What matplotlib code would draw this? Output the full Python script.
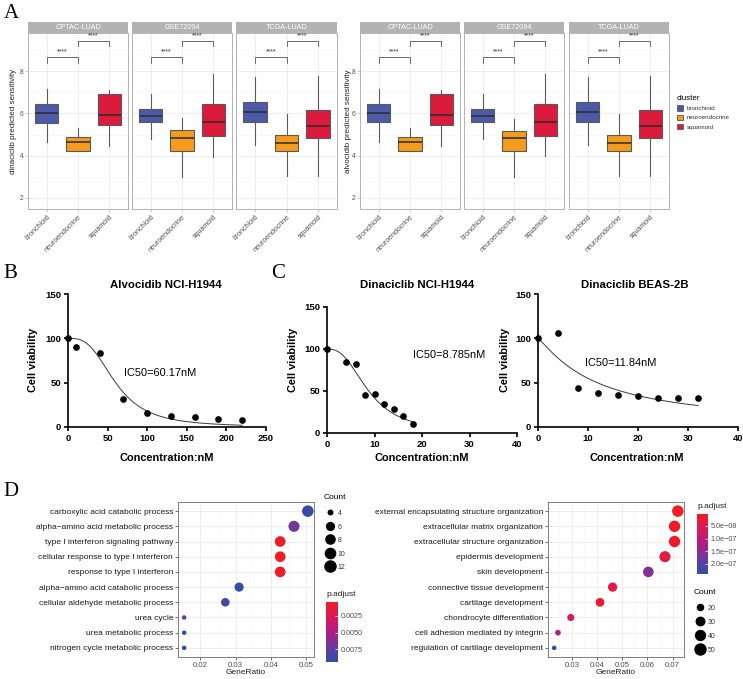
import numpy as np
import matplotlib
matplotlib.use("Agg")
import matplotlib.pyplot as plt
from matplotlib.patches import Patch
from matplotlib.lines import Line2D
from matplotlib.colors import LinearSegmentedColormap, Normalize
from matplotlib.cm import ScalarMappable

plt.rcParams['font.family'] = ['Liberation Sans', 'DejaVu Sans']

# ---------------- data ----------------
clusters = ['bronchioid', 'neuroendocrine', 'squamoid']
cluster_colors = ['#4C5BA8', '#F39C1E', '#DC1A3B']
cohorts = ['CPTAC-LUAD', 'GSE72094', 'TCGA-LUAD']

# (whisker low, q1, median, q3, whisker high) per cluster
dina_cptac = [(4.66, 5.56, 6.00, 6.43, 7.13), (4.20, 4.20, 4.63, 4.88, 5.30), (4.47, 5.45, 5.94, 6.91, 7.10)]
dina_gse = [(4.80, 5.57, 5.87, 6.20, 6.90), (3.00, 4.24, 4.85, 5.20, 5.76), (3.95, 4.94, 5.60, 6.43, 7.86)]
dina_tcga = [(4.50, 5.57, 6.05, 6.52, 7.73), (3.05, 4.20, 4.61, 4.98, 5.97), (3.05, 4.82, 5.39, 6.17, 7.76)]
alvo_cptac = [(4.66, 5.57, 6.00, 6.43, 7.13), (4.20, 4.20, 4.63, 4.88, 5.32), (4.47, 5.45, 5.94, 6.91, 7.10)]
alvo_gse = [(4.80, 5.57, 5.87, 6.20, 6.90), (3.00, 4.24, 4.85, 5.17, 5.73), (3.98, 4.93, 5.60, 6.43, 7.86)]
alvo_tcga = [(4.50, 5.57, 6.05, 6.52, 7.73), (3.05, 4.20, 4.61, 4.98, 5.97), (3.05, 4.83, 5.40, 6.16, 7.76)]

# significance brackets: (from, to, height)
sig_pairs = [(1, 2, 8.65), (2, 3, 9.42)]

# dose response
alvo_h1944_conc = [0, 10, 40, 70, 100, 130, 160, 190, 220]
alvo_h1944_via = [100, 90.5, 83, 32, 16.3, 12.5, 11.7, 9.5, 8.3]
alvo_h1944_ic50, alvo_h1944_hill = 60.17, 3.0

dina_h1944_conc = [0, 4, 6, 8, 10, 12, 14, 16, 18]
dina_h1944_via = [100, 85, 82, 45, 46, 34, 29, 20, 11]
dina_h1944_ic50, dina_h1944_hill = 8.785, 2.6

dina_beas_conc = [0, 4, 8, 12, 16, 20, 24, 28, 32]
dina_beas_via = [100, 106, 44, 38, 36.4, 34.5, 32.6, 32.2, 32.2]
dina_beas_ic50, dina_beas_hill = 11.84, 1.15

# GO enrichment
go_left_terms = ['carboxylic acid catabolic process', 'alpha\u2212amino acid metabolic process',
                 'type I interferon signaling pathway', 'cellular response to type I interferon',
                 'response to type I interferon', 'alpha\u2212amino acid catabolic process',
                 'cellular aldehyde metabolic process', 'urea cycle', 'urea metabolic process',
                 'nitrogen cycle metabolic process']
go_left_ratio = [0.0504, 0.0465, 0.0426, 0.0426, 0.0426, 0.0310, 0.0271, 0.0155, 0.0155, 0.0155]
go_left_count = [13, 12, 11, 11, 11, 8, 7, 4, 4, 4]
go_left_padj = [0.0090, 0.0068, 0.0004, 0.0004, 0.0005, 0.0092, 0.0086, 0.0068, 0.0093, 0.0094]

go_right_terms = ['external encapsulating structure organization', 'extracellular matrix organization',
                  'extracellular structure organization', 'epidermis development', 'skin development',
                  'connective tissue development', 'cartilage development', 'chondrocyte differentiation',
                  'cell adhesion mediated by integrin', 'regulation of cartilage development']
go_right_ratio = [0.0721, 0.0708, 0.0708, 0.0670, 0.0604, 0.0462, 0.0412, 0.0296, 0.0245, 0.0230]
go_right_count = [55, 54, 54, 51, 46, 35, 32, 23, 19, 18]
go_right_padj = [3e-9, 6e-9, 8e-9, 3.5e-8, 1.6e-7, 3e-8, 1.5e-8, 6.5e-8, 1.25e-7, 2.4e-7]

ic50_labels = {'Alvocidib NCI-H1944': '60.17', 'Dinaciclib NCI-H1944': '8.785',
               'Dinaciclib BEAS-2B': '11.84'}

# ---------------- helpers ----------------
W, H = 743, 679
fig = plt.figure(figsize=(W / 100, H / 100), dpi=100)


def px_axes(x0, y0, x1, y1):
    return fig.add_axes([x0 / W, 1 - y1 / H, (x1 - x0) / W, (y1 - y0) / H])


def fig_text(x, y, s, **kw):
    return fig.text(x / W, 1 - y / H, s, **kw)


def logistic(x, ic50, hill, top=100.0, bottom=0.0):
    return bottom + (top - bottom) / (1 + (x / ic50) ** hill)


def dot_diam(c, cmin, cmax, dmin=4.5, dmax=11.5):
    # ggplot-like area scale, returned in points
    c = np.asarray(c, dtype=float)
    return (dmin + (dmax - dmin) * np.sqrt((c - cmin) / (cmax - cmin))) * 0.72


grey_txt = '#4D4D4D'

# ---------------- panel A ----------------
def facet(x0, x1, stats5, name, show_y):
    ax = px_axes(x0, 33, x1, 209)
    stats = [dict(whislo=s[0], q1=s[1], med=s[2], q3=s[3], whishi=s[4], fliers=[]) for s in stats5]
    bp = ax.bxp(stats, positions=[1, 2, 3], widths=0.75, patch_artist=True, showfliers=False,
                showcaps=False, boxprops=dict(edgecolor='#5A5A5A', linewidth=0.8),
                medianprops=dict(color='#2B2B2B', linewidth=1.1),
                whiskerprops=dict(color='#5A5A5A', linewidth=0.8))
    for patch, c in zip(bp['boxes'], cluster_colors):
        patch.set_facecolor(c)
    ax.set_xlim(0.4, 3.6)
    ax.set_ylim(1.48, 9.8)
    ax.set_yticks([2, 4, 6, 8])
    ax.set_yticks([3, 5, 7, 9], minor=True)
    ax.set_xticks([1, 2, 3])
    ax.set_xticklabels(clusters, rotation=45, ha='right', rotation_mode='anchor',
                       fontsize=5, color=grey_txt)
    ax.grid(which='major', color='#EBEBEB', linewidth=0.6)
    ax.grid(which='minor', axis='y', color='#F4F4F4', linewidth=0.4)
    ax.set_axisbelow(True)
    ax.tick_params(which='both', length=2, color='#B3B3B3', width=0.5, labelsize=4.8,
                   labelcolor=grey_txt, pad=1.5)
    ax.tick_params(axis='x', labelsize=5)
    ax.tick_params(which='minor', length=0)
    if not show_y:
        ax.tick_params(axis='y', length=0, labelleft=False)
    for sp in ax.spines.values():
        sp.set_color('#B3B3B3')
        sp.set_linewidth(0.7)
    for a, b, h in sig_pairs:
        ax.plot([a, a, b, b], [h - 0.25, h, h, h - 0.25], color='#555555', lw=0.6)
        ax.text((a + b) / 2, h + 0.07, '****', ha='center', va='bottom', fontsize=5, color='#333333')
    sax = px_axes(x0, 22, x1, 33)
    sax.set_facecolor('#B3B3B3')
    sax.set_xticks([])
    sax.set_yticks([])
    for sp in sax.spines.values():
        sp.set_visible(False)
    sax.text(0.5, 0.5, name, ha='center', va='center', color='white', fontsize=5.2,
             transform=sax.transAxes)
    return ax


left_x = [(28, 128), (132, 232), (236, 337)]
right_x = [(360, 460), (464, 564), (569, 669)]
for (x0, x1), st, nm, i in zip(left_x, [dina_cptac, dina_gse, dina_tcga], cohorts, range(3)):
    facet(x0, x1, st, nm, i == 0)
for (x0, x1), st, nm, i in zip(right_x, [alvo_cptac, alvo_gse, alvo_tcga], cohorts, range(3)):
    facet(x0, x1, st, nm, i == 0)

fig_text(14, 121, 'dinaciclib predicted sensitivity', rotation=90, ha='center', va='center',
         fontsize=5.8, color='#222222')
fig_text(348, 121, 'alvocidib predicted sensitivity', rotation=90, ha='center', va='center',
         fontsize=5.8, color='#222222')

handles = [Patch(facecolor=c, edgecolor='#5A5A5A', linewidth=0.6, label=l)
           for c, l in zip(cluster_colors, clusters)]
leg = fig.legend(handles=handles, title='cluster', loc='upper left',
                 bbox_to_anchor=(677 / W, 1 - 95 / H), frameon=False, fontsize=4.5,
                 title_fontsize=5.8, handlelength=1.0, handleheight=0.9, labelspacing=0.55,
                 handletextpad=0.6, borderpad=0, borderaxespad=0)
leg._legend_box.align = 'left'
for t in leg.get_texts():
    t.set_color('#333333')

# ---------------- panels B, C ----------------
def dose_panel(box, conc, via, ic50, hill, xmax, xstep, title, title_x, ylab_x, xlab_x, ic_xy):
    ax = px_axes(*box)
    xs = np.linspace(0, max(conc), 300)
    ax.plot(xs, logistic(xs, ic50, hill), color='#3A3A3A', lw=0.7)
    ax.plot(conc, via, 'o', color='black', markersize=3.8, clip_on=False)
    ax.set_xlim(0, xmax)
    ax.set_ylim(0, 150)
    ax.set_xticks(np.arange(0, xmax + 1, xstep))
    ax.set_yticks([0, 50, 100, 150])
    for sp in ['top', 'right']:
        ax.spines[sp].set_visible(False)
    for sp in ['left', 'bottom']:
        ax.spines[sp].set_linewidth(1.2)
    ax.tick_params(width=1.2, length=3, labelsize=6.8, pad=2)
    for lab in ax.get_xticklabels() + ax.get_yticklabels():
        lab.set_fontweight('bold')
    fig_text(title_x, 285, title, ha='center', va='center', fontsize=8.2, fontweight='bold')
    fig_text(ylab_x, 360, 'Cell viability', rotation=90, ha='center', va='center',
             fontsize=7.8, fontweight='bold')
    fig_text(xlab_x, 458, 'Concentration:nM', ha='center', va='center', fontsize=7.9,
             fontweight='bold')
    fig_text(ic_xy[0], ic_xy[1], 'IC50=%snM' % ic50_labels[title], ha='left', va='center',
             fontsize=7.9)
    return ax


dose_panel((68, 294, 266, 427), alvo_h1944_conc, alvo_h1944_via, alvo_h1944_ic50, alvo_h1944_hill,
           250, 50, 'Alvocidib NCI-H1944', 166, 33, 167, (124, 373))
dose_panel((327, 307, 517, 433), dina_h1944_conc, dina_h1944_via, dina_h1944_ic50, dina_h1944_hill,
           40, 10, 'Dinaciclib NCI-H1944', 417, 293, 422, (413, 355))
dose_panel((538, 294, 738, 427), dina_beas_conc, dina_beas_via, dina_beas_ic50, dina_beas_hill,
           40, 10, 'Dinaciclib BEAS-2B', 635, 505, 637, (585, 363))

# ---------------- panel D ----------------
padj_cmap = LinearSegmentedColormap.from_list(
    'padj', ['#EE1D26', '#D8195A', '#B21B84', '#6B3A9E', '#2C4FA7'])


def go_panel(box, terms, ratio, count, padj, xticks, cbar_box, cbar_ticks, cbar_labels,
             count_title_xy, count_vals, spacing):
    ax = px_axes(*box)
    n = len(terms)
    ypos = np.arange(n)[::-1]
    cmin, cmax = min(count), max(count)
    norm = Normalize(vmin=min(padj), vmax=max(padj))
    ax.scatter(ratio, ypos, s=dot_diam(count, cmin, cmax) ** 2, c=padj, cmap=padj_cmap,
               norm=norm, linewidths=0, zorder=3)
    rng = max(ratio) - min(ratio)
    ax.set_xlim(min(ratio) - 0.05 * rng, max(ratio) + 0.05 * rng)
    ax.set_ylim(-0.6, n - 0.4)
    ax.set_yticks(ypos)
    ax.set_yticklabels(terms, fontsize=6.0, color='#1A1A1A')
    ax.set_xticks(xticks)
    ax.set_xticklabels(['%.2f' % t for t in xticks], fontsize=5.6, color=grey_txt)
    ax.set_xticks([t + 0.005 for t in xticks[:-1]] + [xticks[0] - 0.005], minor=True)
    ax.grid(which='major', color='#EBEBEB', linewidth=0.6)
    ax.grid(which='minor', axis='x', color='#F4F4F4', linewidth=0.4)
    ax.set_axisbelow(True)
    ax.tick_params(which='major', length=2, width=0.5, color='#333333', pad=1.5)
    ax.tick_params(which='minor', length=0)
    for sp in ax.spines.values():
        sp.set_color('#7F7F7F')
        sp.set_linewidth(0.7)
    fig_text((box[0] + box[2]) / 2, 673, 'GeneRatio', ha='center', va='center', fontsize=6.0,
             color='#222222')

    cax = px_axes(*cbar_box)
    cb = fig.colorbar(ScalarMappable(norm=norm, cmap=padj_cmap), cax=cax)
    cax.invert_yaxis()
    cb.outline.set_visible(False)
    cb.set_ticks(cbar_ticks)
    cb.set_ticklabels(cbar_labels)
    cax.tick_params(length=2, width=0.5, color='white', direction='in', labelsize=5.2,
                    labelcolor=grey_txt, pad=2)
    fig_text(cbar_box[0], cbar_box[1] - 8, 'p.adjust', ha='left', va='center', fontsize=6.0,
             color='#222222')

    hs = [Line2D([], [], marker='o', linestyle='', color='black',
                 markersize=float(dot_diam(v, cmin, cmax)), label=str(v)) for v in count_vals]
    lg = fig.legend(handles=hs, title='Count', loc='upper left',
                    bbox_to_anchor=(count_title_xy[0] / W, 1 - count_title_xy[1] / H),
                    frameon=False, fontsize=5.0, title_fontsize=6.0, handlelength=1.6,
                    handleheight=1.2, labelspacing=spacing, handletextpad=0.4, borderpad=0,
                    borderaxespad=0)
    lg._legend_box.align = 'left'
    lg._legend_box.sep = 6
    for t in lg.get_texts():
        t.set_color('#333333')


go_panel((178, 502, 314, 657), go_left_terms, go_left_ratio, go_left_count, go_left_padj,
         [0.02, 0.03, 0.04, 0.05], (326, 602, 338, 662),
         [0.0025, 0.0050, 0.0075], ['0.0025', '0.0050', '0.0075'], (324, 494), [4, 6, 8, 10, 12],
         0.8)
go_panel((548, 502, 684, 657), go_right_terms, go_right_ratio, go_right_count, go_right_padj,
         [0.03, 0.04, 0.05, 0.06, 0.07], (697, 514, 708, 574),
         [5e-8, 1e-7, 1.5e-7, 2e-7], ['5.0e\u221208', '1.0e\u221207', '1.5e\u221207', '2.0e\u221207'],
         (694, 589), [20, 30, 40, 50], 0.85)

# ---------------- panel letters ----------------
for letter, (x, y) in zip('ABCD', [(11, 14), (10, 273), (278, 274), (11, 492)]):
    fig_text(x, y, letter, ha='center', va='center', fontsize=15, family='Liberation Serif')

fig.savefig('out.png', dpi=100)
